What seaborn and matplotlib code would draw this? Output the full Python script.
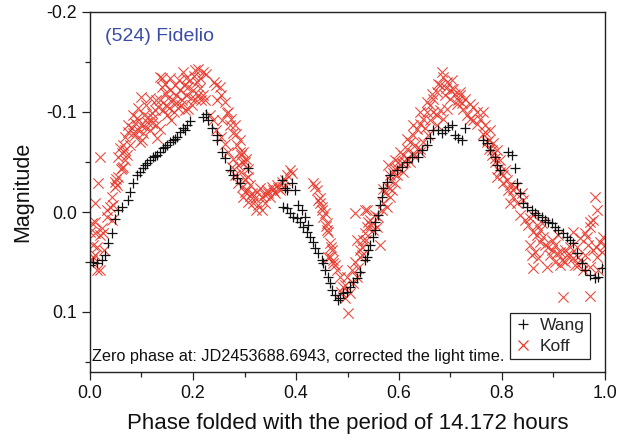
import numpy as np
import pandas as pd
import matplotlib
matplotlib.use("Agg")
import matplotlib.pyplot as plt
from matplotlib.ticker import MultipleLocator, FormatStrFormatter
from matplotlib.lines import Line2D
import seaborn as sns

# ---------------- data ----------------
wang_phase = [0.000, 0.006, 0.014, 0.023, 0.029, 0.035, 0.043, 0.049, 0.054, 0.062,
              0.074, 0.078, 0.083, 0.091, 0.097, 0.103, 0.111, 0.117, 0.122, 0.130,
              0.136, 0.142, 0.150, 0.155, 0.161, 0.169, 0.175, 0.181, 0.188, 0.194,
              0.107, 0.126, 0.146, 0.165, 0.185,
              0.219, 0.225, 0.229, 0.237, 0.247, 0.247, 0.256, 0.262, 0.272, 0.278,
              0.285, 0.291, 0.307,
              0.373, 0.379, 0.383, 0.392, 0.398, 0.404, 0.375, 0.383, 0.388, 0.394,
              0.402, 0.412, 0.417, 0.408, 0.414, 0.423, 0.421, 0.427, 0.433, 0.437,
              0.443, 0.450, 0.452, 0.456, 0.462, 0.466, 0.470, 0.476, 0.482, 0.485,
              0.491, 0.499, 0.505, 0.511, 0.518, 0.524, 0.534, 0.538, 0.540, 0.544,
              0.550, 0.553, 0.553, 0.559, 0.563, 0.567, 0.569, 0.577, 0.583, 0.596,
              0.606, 0.616, 0.625, 0.637, 0.645, 0.654, 0.660, 0.666, 0.676, 0.683,
              0.689, 0.695, 0.703, 0.709, 0.715, 0.722, 0.728,
              0.763, 0.771, 0.777, 0.786, 0.790, 0.796, 0.812, 0.819, 0.825, 0.829,
              0.835, 0.841, 0.849, 0.858, 0.864, 0.870, 0.878, 0.883, 0.889, 0.897,
              0.903, 0.909, 0.918, 0.926, 0.932, 0.938, 0.946, 0.955, 0.961, 0.971,
              0.981, 0.986, 0.994]
wang_mag = [0.053, 0.050, 0.051, 0.048, 0.043, 0.031, 0.021, 0.007, -0.002, -0.005,
            -0.012, -0.020, -0.029, -0.037, -0.040, -0.044, -0.049, -0.052, -0.055, -0.057,
            -0.060, -0.064, -0.067, -0.070, -0.072, -0.075, -0.080, -0.084, -0.087, -0.091,
            -0.047, -0.056, -0.065, -0.073, -0.082,
            -0.095, -0.098, -0.092, -0.084, -0.077, -0.072, -0.060, -0.054, -0.042, -0.037,
            -0.034, -0.029, -0.044,
            -0.032, -0.024, -0.022, -0.029, -0.022, -0.007, -0.005, -0.004, 0.001, 0.005,
            0.006, -0.002, 0.005, 0.010, 0.015, 0.013, 0.020, 0.025, 0.030, 0.036,
            0.041, 0.048, 0.051, 0.058, 0.065, 0.071, 0.078, 0.083, 0.088, 0.086,
            0.081, 0.080, 0.075, 0.070, 0.066, 0.060, 0.048, 0.045, 0.038, 0.033,
            0.025, 0.018, 0.010, 0.003, -0.007, -0.015, -0.024, -0.030, -0.037, -0.042,
            -0.045, -0.050, -0.055, -0.055, -0.062, -0.067, -0.074, -0.082, -0.082, -0.079,
            -0.082, -0.085, -0.087, -0.077, -0.074, -0.072, -0.084,
            -0.072, -0.069, -0.062, -0.055, -0.047, -0.042, -0.060, -0.057, -0.044, -0.029,
            -0.019, -0.009, -0.005, -0.002, 0.001, 0.003, 0.005, 0.008, 0.010, 0.011,
            0.015, 0.018, 0.021, 0.025, 0.028, 0.031, 0.041, 0.051, 0.058, 0.063,
            0.066, 0.065, 0.056]

koff_phase = [
    # rise 0.00-0.06
    0.010, 0.010, 0.000, 0.006, 0.006, 0.014, 0.019, 0.016, 0.004, 0.010,
    0.019, 0.014, 0.010, 0.004, 0.019, 0.033, 0.033, 0.039, 0.043, 0.025,
    0.045, 0.027, 0.023, 0.052, 0.049, 0.054, 0.049, 0.050, 0.043,
    # 0.06-0.13
    0.062, 0.064, 0.054, 0.058, 0.062, 0.068, 0.072, 0.064, 0.068, 0.074,
    0.082, 0.087, 0.091, 0.083, 0.093, 0.101, 0.103, 0.097, 0.107, 0.111,
    0.113, 0.120, 0.120, 0.122, 0.130, 0.126, 0.132, 0.060, 0.068, 0.078,
    0.087, 0.099, 0.105, 0.099, 0.109, 0.117, 0.128, 0.117, 0.128, 0.083,
    0.074, 0.093,
    # first maximum 0.13-0.23
    0.136, 0.140, 0.146, 0.151, 0.140, 0.136, 0.136, 0.142, 0.148, 0.155,
    0.157, 0.161, 0.165, 0.167, 0.171, 0.175, 0.179, 0.181, 0.183, 0.186,
    0.190, 0.190, 0.194, 0.196, 0.200, 0.204, 0.204, 0.208, 0.210, 0.210,
    0.214, 0.219, 0.219, 0.223, 0.225, 0.150, 0.163, 0.173, 0.155, 0.186,
    0.146, 0.177, 0.198, 0.214, 0.184, 0.167, 0.153, 0.202, 0.216,
    # descent 0.23-0.31
    0.245, 0.252, 0.254, 0.262, 0.268, 0.274, 0.282, 0.283, 0.291, 0.297,
    0.303, 0.307, 0.293, 0.301, 0.233, 0.239, 0.245, 0.254, 0.262, 0.268,
    0.278, 0.287, 0.293, 0.301, 0.241, 0.247, 0.256, 0.266, 0.272, 0.278,
    0.285, 0.276, 0.282, 0.291, 0.295,
    # plateau 0.29-0.39
    0.287, 0.295, 0.297, 0.305, 0.307, 0.307, 0.315, 0.317, 0.320, 0.326,
    0.334, 0.334, 0.340, 0.344, 0.346, 0.353, 0.355, 0.363, 0.365, 0.373,
    0.375, 0.383, 0.388, 0.392, 0.311, 0.324, 0.330, 0.311, 0.301, 0.350,
    0.359, 0.369, 0.379, 0.322, 0.340,
    # second descent 0.43-0.49
    0.433, 0.441, 0.443, 0.447, 0.450, 0.450, 0.452, 0.456, 0.460, 0.460,
    0.462, 0.466, 0.470, 0.466, 0.462, 0.472, 0.472, 0.480, 0.485, 0.437,
    0.447, 0.458, 0.468, 0.476,
    # minimum and rise 0.49-0.64
    0.499, 0.491, 0.505, 0.495, 0.501, 0.511, 0.518, 0.520, 0.524, 0.528,
    0.530, 0.534, 0.518, 0.524, 0.538, 0.540, 0.544, 0.538, 0.515, 0.534,
    0.550, 0.557, 0.559, 0.563, 0.567, 0.569, 0.573, 0.579, 0.583, 0.588,
    0.596, 0.606, 0.616, 0.627, 0.641, 0.583, 0.577, 0.586, 0.592, 0.509,
    0.515, 0.528, 0.536, 0.546, 0.553, 0.495, 0.487,
    # second maximum 0.57-0.77
    0.569, 0.583, 0.592, 0.598, 0.608, 0.616, 0.621, 0.627, 0.635, 0.641,
    0.647, 0.654, 0.660, 0.666, 0.674, 0.680, 0.685, 0.683, 0.693, 0.699,
    0.709, 0.718, 0.728, 0.738, 0.744, 0.751, 0.763, 0.757, 0.751, 0.744,
    0.767, 0.596, 0.608, 0.621, 0.627, 0.641, 0.647, 0.656, 0.674, 0.685,
    0.579, 0.602, 0.616, 0.627, 0.641, 0.654, 0.664, 0.676, 0.705, 0.718,
    0.699, 0.713, 0.693, 0.680, 0.674, 0.724, 0.738, 0.732, 0.631, 0.650,
    0.666, 0.689, 0.703, 0.691, 0.715, 0.722, 0.612, 0.592, 0.660,
    # descent 0.76-0.84
    0.763, 0.771, 0.775, 0.781, 0.786, 0.792, 0.802, 0.810, 0.816, 0.821,
    0.775, 0.781, 0.786, 0.796, 0.806, 0.796, 0.790, 0.783, 0.790, 0.802,
    0.812, 0.821, 0.816, 0.829, 0.841, 0.839, 0.825, 0.777, 0.767,
    # tail 0.83-1.00
    0.845, 0.854, 0.850, 0.860, 0.868, 0.874, 0.880, 0.874, 0.864, 0.858,
    0.870, 0.860, 0.887, 0.889, 0.897, 0.903, 0.907, 0.917, 0.913, 0.922,
    0.932, 0.938, 0.948, 0.955, 0.946, 0.951, 0.961, 0.971, 0.977, 0.984,
    0.981, 0.971, 0.965, 0.977, 0.971, 0.984, 0.986, 0.994, 1.000, 0.996,
    0.990, 0.918, 0.971, 0.860, 0.878, 0.938, 0.957, 0.948, 0.932, 0.926,
    0.883, 0.893, 0.903, 0.913, 0.922, 0.942, 0.961, 0.967, 0.835, 0.854,
    0.868, 0.897, 0.909, 0.983]
koff_mag = [
    -0.009, 0.010, 0.020, 0.033, 0.045, 0.058, -0.055, -0.029, 0.011, 0.021,
    0.023, 0.035, 0.043, 0.048, 0.058, -0.002, 0.005, -0.005, 0.008, 0.021,
    -0.007, 0.038, 0.016, -0.027, -0.030, -0.035, -0.025, -0.033, -0.015,
    -0.044, -0.045, -0.055, -0.064, -0.059, -0.062, -0.057, -0.067, -0.075, -0.080,
    -0.084, -0.089, -0.094, -0.079, -0.082, -0.072, -0.079, -0.070, -0.085, -0.090,
    -0.095, -0.099, -0.089, -0.094, -0.074, -0.102, -0.105, -0.043, -0.052, -0.067,
    -0.077, -0.087, -0.097, -0.115, -0.107, -0.114, -0.112, -0.082, -0.087, -0.097,
    -0.087, -0.104,
    -0.112, -0.125, -0.119, -0.114, -0.134, -0.135, -0.083, -0.102, -0.107, -0.122,
    -0.092, -0.112, -0.127, -0.117, -0.104, -0.122, -0.112, -0.140, -0.127, -0.117,
    -0.125, -0.103, -0.132, -0.114, -0.122, -0.113, -0.142, -0.130, -0.143, -0.117,
    -0.124, -0.140, -0.117, -0.112, -0.138, -0.097, -0.100, -0.132, -0.134, -0.134,
    -0.128, -0.107, -0.107, -0.134, -0.102, -0.109, -0.104, -0.136, -0.112,
    -0.127, -0.125, -0.117, -0.110, -0.100, -0.093, -0.087, -0.078, -0.072, -0.060,
    -0.053, -0.043, -0.057, -0.050, -0.097, -0.092, -0.082, -0.075, -0.068, -0.060,
    -0.053, -0.047, -0.040, -0.033, -0.130, -0.112, -0.092, -0.099, -0.087, -0.079,
    -0.067, -0.045, -0.037, -0.060, -0.050,
    -0.029, -0.025, -0.015, -0.022, -0.010, -0.035, -0.019, -0.009, -0.014, -0.007,
    -0.015, -0.002, -0.009, -0.022, -0.019, -0.025, -0.022, -0.027, -0.024, -0.030,
    -0.025, -0.037, -0.042, -0.039, -0.027, -0.020, -0.024, -0.016, -0.020, -0.015,
    -0.019, -0.022, -0.032, -0.002, -0.017,
    -0.029, -0.022, -0.012, -0.014, -0.005, -0.002, 0.005, 0.001, 0.011, 0.018,
    0.020, 0.031, 0.038, 0.045, 0.045, 0.048, 0.051, 0.058, 0.065, -0.026,
    -0.009, 0.014, 0.035, 0.053,
    0.065, 0.075, 0.081, 0.086, 0.101, 0.071, 0.065, 0.056, 0.045, 0.035,
    0.028, 0.021, 0.028, 0.038, 0.015, 0.010, 0.008, -0.002, 0.001, -0.002,
    0.018, 0.015, 0.005, 0.033, -0.002, -0.009, -0.019, -0.025, -0.032, -0.039,
    -0.044, -0.049, -0.054, -0.059, -0.060, -0.015, -0.005, -0.022, -0.029, 0.058,
    0.050, 0.043, 0.028, 0.013, 0.003, 0.073, 0.080,
    -0.023, -0.037, -0.043, -0.050, -0.057, -0.063, -0.070, -0.077, -0.083, -0.088,
    -0.093, -0.100, -0.107, -0.113, -0.120, -0.127, -0.135, -0.140, -0.130, -0.122,
    -0.118, -0.117, -0.113, -0.108, -0.105, -0.100, -0.100, -0.093, -0.088, -0.092,
    -0.087, -0.037, -0.040, -0.050, -0.057, -0.063, -0.070, -0.077, -0.087, -0.093,
    -0.047, -0.060, -0.073, -0.087, -0.100, -0.110, -0.118, -0.128, -0.123, -0.120,
    -0.113, -0.108, -0.103, -0.102, -0.097, -0.103, -0.093, -0.097, -0.067, -0.084,
    -0.100, -0.117, -0.132, -0.124, -0.112, -0.109, -0.050, -0.052, -0.092,
    -0.078, -0.070, -0.063, -0.057, -0.050, -0.043, -0.037, -0.032, -0.027, -0.022,
    -0.072, -0.062, -0.054, -0.040, -0.042, -0.052, -0.062, -0.069, -0.035, -0.029,
    -0.022, -0.015, -0.009, -0.009, -0.012, -0.019, -0.025, -0.082, -0.080,
    0.008, 0.006, 0.013, 0.020, 0.023, 0.018, 0.025, 0.030, 0.040, 0.043,
    0.046, 0.056, 0.055, 0.035, 0.038, 0.033, 0.041, 0.048, 0.040, 0.038,
    0.043, 0.046, 0.045, 0.050, 0.035, 0.026, 0.021, 0.015, 0.008, -0.002,
    -0.015, 0.010, 0.025, 0.038, 0.055, 0.045, 0.058, 0.040, 0.033, 0.025,
    0.030, 0.085, 0.084, 0.003, 0.011, 0.020, 0.058, 0.053, 0.035, 0.043,
    0.033, 0.043, 0.050, 0.053, 0.050, 0.053, 0.043, 0.033, 0.003, 0.033,
    0.013, 0.028, 0.023, 0.035]

series_names = ["Wang", "Koff"]
title_text = "(524) Fidelio"
note_text = "Zero phase at: JD2453688.6943, corrected the light time."
x_label = "Phase folded with the period of 14.172 hours"
y_label = "Magnitude"

wang = pd.DataFrame({"phase": wang_phase, "mag": wang_mag})
koff = pd.DataFrame({"phase": koff_phase, "mag": koff_mag})

# ---------------- style ----------------
sns.set_theme(style="ticks")
plt.rcParams["font.family"] = ["Liberation Sans", "DejaVu Sans"]
plt.rcParams["axes.unicode_minus"] = False

red = "#e8392c"
blue = "#3a4ca6"

fig = plt.figure(figsize=(6.24, 4.40), dpi=100)
ax = fig.add_axes([90 / 624, 1 - 372 / 440, 515 / 624, 360 / 440])

sns.scatterplot(data=koff, x="phase", y="mag", ax=ax, marker="x", color=red,
                s=55, linewidth=0.8, alpha=0.9, legend=False, zorder=2)
sns.scatterplot(data=wang, x="phase", y="mag", ax=ax, marker="+", color="#111111",
                s=50, linewidth=0.9, legend=False, zorder=3)

ax.set_xlim(0.0, 1.0)
ax.set_ylim(0.16, -0.2)

ax.xaxis.set_major_locator(MultipleLocator(0.2))
ax.xaxis.set_minor_locator(MultipleLocator(0.1))
ax.yaxis.set_major_locator(MultipleLocator(0.1))
ax.yaxis.set_minor_locator(MultipleLocator(0.05))
ax.xaxis.set_major_formatter(FormatStrFormatter("%.1f"))
ax.yaxis.set_major_formatter(FormatStrFormatter("%.1f"))

ax.tick_params(axis="both", which="major", direction="out", length=5.5, width=0.9,
               labelsize=12.8, color="#222222", labelcolor="#111111", pad=4)
ax.tick_params(axis="both", which="minor", direction="out", length=3.5, width=0.9,
               color="#222222")
ax.tick_params(top=False, right=False, which="both")
for sp in ax.spines.values():
    sp.set_visible(True)
    sp.set_linewidth(1.0)
    sp.set_color("#222222")

ax.set_xlabel(x_label, fontsize=16, color="#111111", labelpad=8)
ax.set_ylabel(y_label, fontsize=15.5, color="#111111", labelpad=9)

ax.text(0.03, -0.176, title_text, color=blue, fontsize=14, va="center", ha="left")
ax.text(0.004, 0.144, note_text, color="#111111", fontsize=11.7, va="center", ha="left")

handles = [Line2D([], [], linestyle="none", marker="+", color="#111111", markersize=7.5,
                  markeredgewidth=0.9),
           Line2D([], [], linestyle="none", marker="x", color=red, markersize=7,
                  markeredgewidth=0.9)]
leg = ax.legend(handles, series_names, loc="lower right", bbox_to_anchor=(0.971, 0.036),
                fontsize=12.5, frameon=True, fancybox=False, handlelength=0.8,
                handletextpad=0.6, borderpad=0.3, labelspacing=0.3, borderaxespad=0)
leg.get_frame().set_edgecolor("#222222")
leg.get_frame().set_linewidth(0.9)
leg.get_frame().set_alpha(1.0)

fig.savefig("out.png", dpi=100)
